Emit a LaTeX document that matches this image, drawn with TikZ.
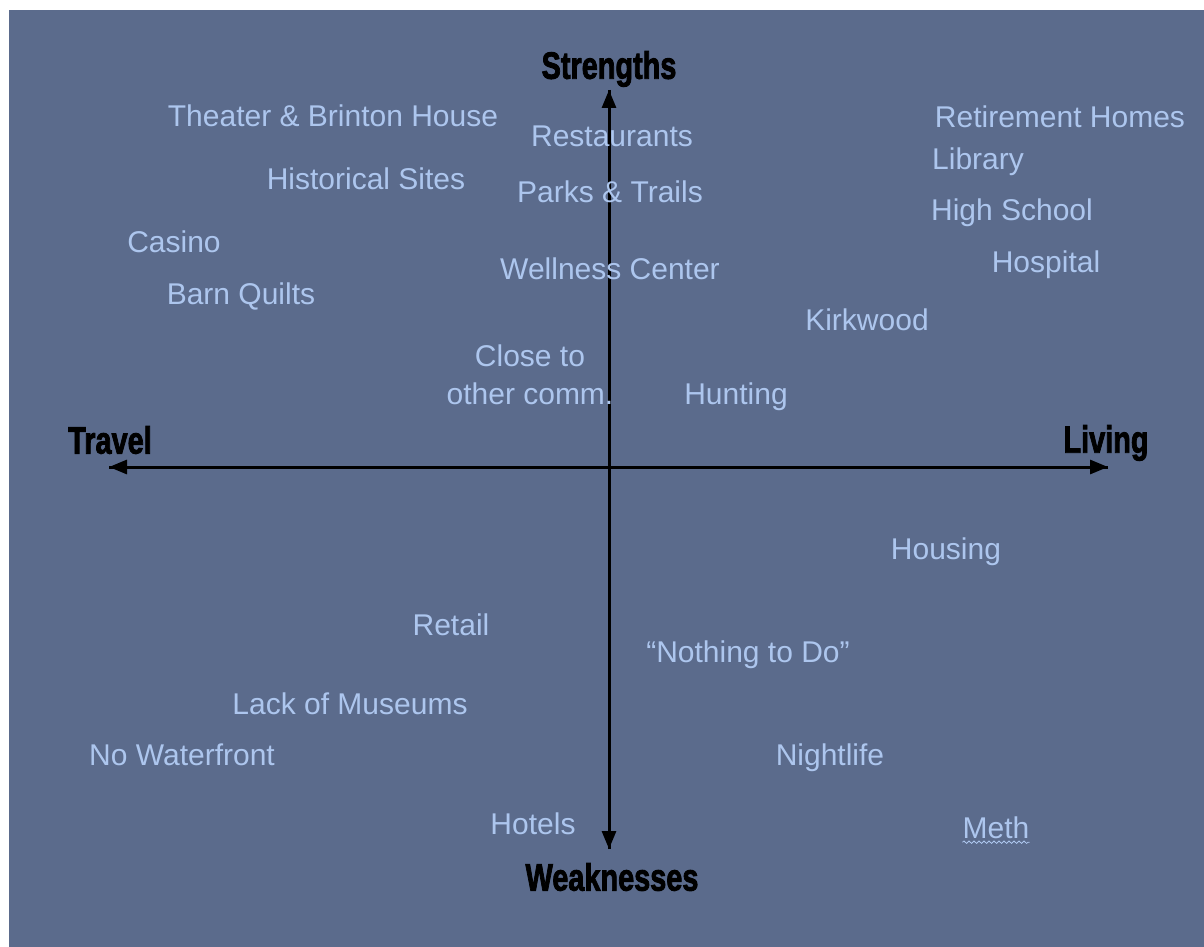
\documentclass[tikz,border=0pt]{standalone}
\usepackage{fontspec}
\setmainfont{Liberation Sans}
\newfontfamily\headfont[FakeBold=2.5]{Liberation Sans Bold}
\usetikzlibrary{arrows.meta}
\usetikzlibrary{decorations.pathmorphing}
\usepackage{xcolor}
\definecolor{slate}{HTML}{5B6B8C}
\definecolor{paleblue}{HTML}{ADC6EE}
\newcommand{\headtxt}[1]{\scalebox{0.76}[1]{#1}}

\begin{document}
\begin{tikzpicture}[x=1pt, y=-1pt,
  item/.style={text=paleblue, font=\fontsize{30}{38}\selectfont, inner sep=0, align=center},
  head/.style={text=black, font=\fontsize{38}{40}\headfont, inner sep=0},
  axis/.style={black, line width=3pt, -{Triangle[length=18pt, width=14pt]}}]
\useasboundingbox (0,0) rectangle (1204,947);
\fill[white] (0,0) rectangle (1204,947);
\fill[slate] (9,10) rectangle (1204,947);
% axes
\coordinate (o) at (609,467);
\coordinate (up) at (609,90);
\coordinate (down) at (609,849);
\coordinate (left) at (109,467);
\coordinate (right) at (1108,467);
\draw[axis] (down) -- (up);
\draw[axis] (up) -- (down);
\draw[axis] (right) -- (left);
\draw[axis] (left) -- (right);
\node[head] (strengths) at (609,69) {\headtxt{Strengths}};
\node[head] (weaknesses) at (612,877) {\headtxt{Weaknesses}};
\node[head] (travel) at (110,440) {\headtxt{Travel}};
\node[head] (living) at (1106,443) {\headtxt{Living}};
% strengths, travel side
\node[item] (theater) at (333,116) {Theater \& Brinton House};
\node[item] (historic) at (366,179) {Historical Sites};
\node[item] (casino) at (174,242) {Casino};
\node[item] (quilts) at (241,296) {Barn Quilts};
\node[item] (close) at (530,375) {Close to\\other comm.};
% strengths, middle
\node[item] (restaurants) at (612,136) {Restaurants};
\node[item] (parks) at (610,192) {Parks \& Trails};
\node[item] (wellness) at (610,269) {Wellness Center};
% strengths, living side
\node[item] (retire) at (1060,117) {Retirement Homes};
\node[item] (library) at (978,162) {Library};
\node[item] (school) at (1012,213) {High School};
\node[item] (hospital) at (1046,265) {Hospital};
\node[item] (kirkwood) at (867,320) {Kirkwood};
\node[item] (hunting) at (736,397) {Hunting};
% weaknesses
\node[item] (housing) at (946,552) {Housing};
\node[item] (retail) at (451,625) {Retail};
\node[item] (nothing) at (748,655) {“Nothing to Do”};
\node[item] (museums) at (350,704) {Lack of Museums};
\node[item] (waterfront) at (182,755) {No Waterfront};
\node[item] (nightlife) at (830,758) {Nightlife};
\node[item] (hotels) at (533,824) {Hotels};
\node[item] (meth) at (996,828) {Meth};
\draw[paleblue, line width=0.8pt, decorate, decoration={snake, amplitude=1.2pt, segment length=5pt}]
  ([yshift=-3pt]meth.south west) -- ([yshift=-3pt]meth.south east);
\end{tikzpicture}
\end{document}
